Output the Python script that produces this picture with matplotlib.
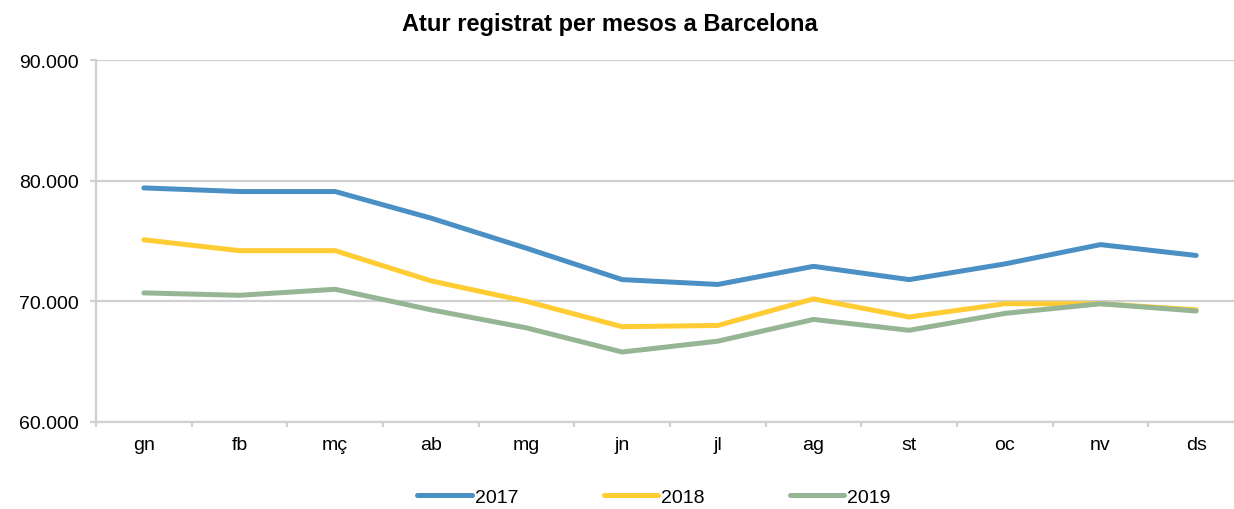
import matplotlib.pyplot as plt
from matplotlib.ticker import FuncFormatter

plt.rcParams['font.family'] = ['Liberation Sans', 'DejaVu Sans']

mesos = ['gn', 'fb', 'mç', 'ab', 'mg', 'jn', 'jl', 'ag', 'st', 'oc', 'nv', 'ds']
atur_2017 = [79400, 79100, 79100, 76900, 74400, 71800, 71400, 72900, 71800, 73100, 74700, 73800]
atur_2018 = [75100, 74200, 74200, 71700, 70000, 67900, 68000, 70200, 68700, 69800, 69800, 69300]
atur_2019 = [70700, 70500, 71000, 69300, 67800, 65800, 66700, 68500, 67600, 69000, 69800, 69200]

series = [('2017', atur_2017, '#4a90c4'),
          ('2018', atur_2018, '#ffcc33'),
          ('2019', atur_2019, '#95b595')]

fig = plt.figure(figsize=(12.34, 5.10), dpi=100)
# the plot area runs past the right edge of the picture, as in the original
ax = fig.add_axes([96 / 1234, 87 / 510, 1148 / 1234, 362 / 510])

x = range(len(mesos))
for name, vals, col in series:
    ax.plot(x, vals, color=col, lw=3.6, label=name, solid_capstyle='round')

ax.set_xlim(-0.5, 11.5)
ax.set_ylim(60000, 90000)
ax.set_yticks([60000, 70000, 80000, 90000])
ax.yaxis.set_major_formatter(FuncFormatter(lambda v, p: f'{v:,.0f}'.replace(',', '.')))
ax.set_xticks(list(x))
ax.set_xticklabels(mesos)
ax.set_xticks([i - 0.5 for i in range(len(mesos) + 1)], minor=True)

ax.grid(axis='y', color='#d0d0d0', lw=1.6)
ax.set_axisbelow(True)
for s in ['top', 'right']:
    ax.spines[s].set_visible(False)
for s in ['left', 'bottom']:
    ax.spines[s].set_color('#d0d0d0')
    ax.spines[s].set_linewidth(1.6)
ax.tick_params(axis='y', length=4.5, color='#d0d0d0', width=1.6, labelsize=14, pad=8)
ax.tick_params(axis='x', which='major', length=0, labelsize=14, pad=10)
ax.tick_params(axis='x', which='minor', length=3.6, color='#d0d0d0', width=1.6)

fig.text(0.494, 1 - 25 / 510, 'Atur registrat per mesos a Barcelona',
         fontsize=17, fontweight='bold', ha='center', va='center')
fig.legend(loc='center', ncol=3, frameon=False, fontsize=14,
           handlelength=2.8, handletextpad=0.15, columnspacing=4.4,
           bbox_to_anchor=(654 / 1234, 1 - 498 / 510))

fig.savefig('out.png', dpi=100)
